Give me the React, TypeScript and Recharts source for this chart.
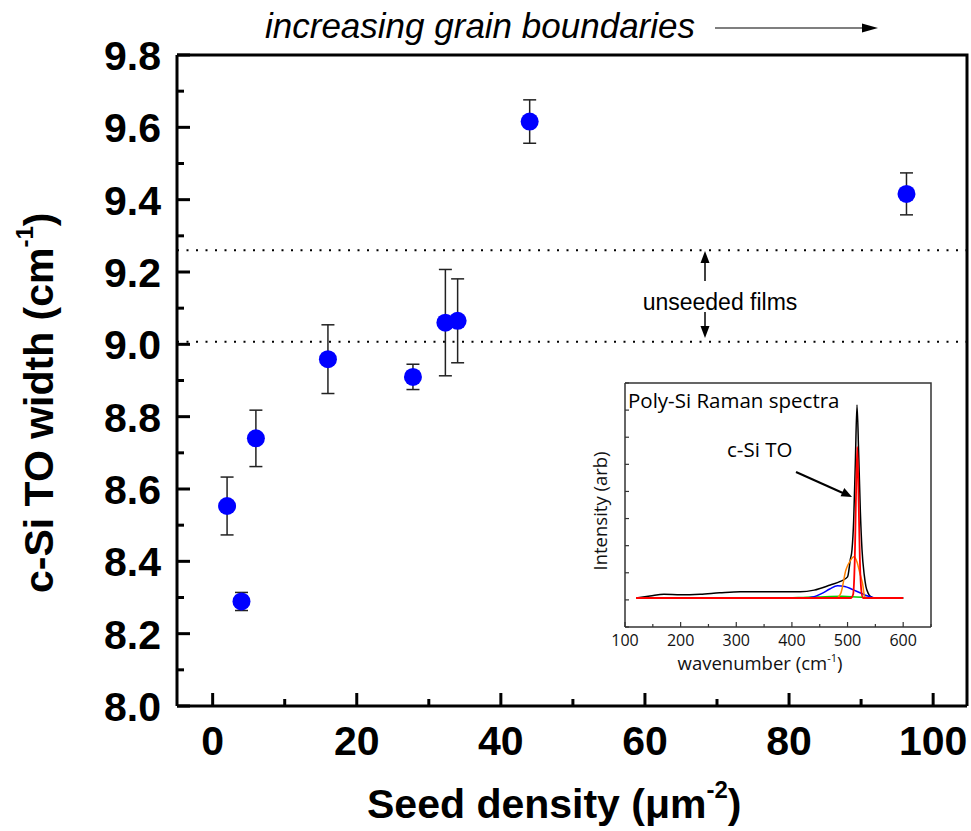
import React from "react";
import { ScatterChart, Scatter, XAxis, YAxis, ErrorBar, ReferenceLine, LineChart, Line } from "recharts";

// main data: c-Si TO peak width vs seed density
const seedDensity = [2.0, 4.0, 6.0, 16.0, 27.8, 32.3, 34.0, 44.0, 96.3];
const toWidth = [8.553, 8.289, 8.74, 8.959, 8.91, 9.06, 9.065, 9.616, 9.416];
const toWidthErr = [0.08, 0.025, 0.078, 0.095, 0.035, 0.147, 0.116, 0.06, 0.058];
const unseededLimits = [9.007, 9.26];

const xTicks = [0, 10, 20, 30, 40, 50, 60, 70, 80, 90, 100];
const yTicks = [8.0, 8.1, 8.2, 8.3, 8.4, 8.5, 8.6, 8.7, 8.8, 8.9, 9.0, 9.1, 9.2, 9.3, 9.4, 9.5, 9.6, 9.7, 9.8];
const X_DOMAIN: [number, number] = [-4.95, 104.7];
const Y_DOMAIN: [number, number] = [8.0, 9.8];

// inset: Raman spectrum and fitted components (wavenumber, intensity in arb units)
const totalW = [120, 145, 170, 200, 235, 270, 307, 350, 415, 440, 469, 487, 500, 505, 508, 511, 514, 517, 520, 523, 526, 530, 533, 537, 541, 550, 600];
const totalI = [1.07, 1.14, 1.21, 1.19, 1.21, 1.26, 1.3, 1.3, 1.3, 1.36, 1.55, 1.68, 1.85, 2.49, 2.85, 3.92, 6.05, 8.19, 6.41, 4.27, 2.85, 1.92, 1.5, 1.25, 1.13, 1.07, 1.07];
const greenW = [120, 380, 420, 460, 490, 515, 535, 550, 600];
const greenI = [1.07, 1.07, 1.09, 1.12, 1.13, 1.11, 1.09, 1.07, 1.07];
const blueW = [120, 421, 440, 455, 468, 482, 495, 505, 515, 525, 535, 545, 554, 600];
const blueI = [1.07, 1.07, 1.12, 1.25, 1.4, 1.52, 1.49, 1.42, 1.33, 1.24, 1.15, 1.09, 1.07, 1.07];
const orangeW = [120, 480, 488, 497, 505, 511.5, 517, 522, 527, 531, 535, 600];
const orangeI = [1.07, 1.07, 1.25, 2.1, 2.45, 2.59, 2.4, 2.0, 1.6, 1.1, 1.07, 1.07];
const redW = [120, 506, 510, 513, 515, 517.5, 520, 522, 525, 528, 600];
const redI = [1.07, 1.07, 1.2, 2.5, 4.6, 6.64, 4.6, 2.6, 1.3, 1.07, 1.07];

const insetXTicks = [100, 150, 200, 250, 300, 350, 400, 450, 500, 550, 600, 650];
const insetYTicks = [0, 1, 2, 3, 4, 5, 6, 7, 8, 9];
const INSET_X: [number, number] = [100, 650];
const INSET_Y: [number, number] = [0, 9];

const points = seedDensity.map((x, i) => ({ x, y: toWidth[i], err: toWidthErr[i] }));
const zip = (w: number[], v: number[]) => w.map((x, i) => ({ w: x, i: v[i] }));
const total = zip(totalW, totalI);
const green = zip(greenW, greenI);
const blue = zip(blueW, blueI);
const orange = zip(orangeW, orangeI);
const red = zip(redW, redI);

const BOLD = "'Liberation Sans', Arial, Helvetica, sans-serif";
const INSET_FONT = "'Open Sans', Lato, sans-serif";

function MainXTick(p: any) {
  const v = p.payload.value;
  const major = v % 20 === 0;
  return (
    <g>
      <line x1={p.x} x2={p.x} y1={p.y} y2={p.y - (major ? 13 : 7)} stroke="#000" strokeWidth={3} />
      {major && (
        <text x={p.x} y={p.y + 49} textAnchor="middle" fontFamily={BOLD} fontWeight="bold" fontSize={41} fill="#000">
          {v}
        </text>
      )}
    </g>
  );
}

function MainYTick(p: any) {
  const v = p.payload.value;
  const major = Math.round(v * 10) % 2 === 0;
  return (
    <g>
      <line x1={p.x} x2={p.x + (major ? 13 : 7)} y1={p.y} y2={p.y} stroke="#000" strokeWidth={3} />
      {major && (
        <text x={p.x - 16} y={p.y + 15} textAnchor="end" fontFamily={BOLD} fontWeight="bold" fontSize={41} fill="#000">
          {v.toFixed(1)}
        </text>
      )}
    </g>
  );
}

function InsetXTick(p: any) {
  const v = p.payload.value;
  const major = v % 100 === 0;
  return (
    <g>
      <line x1={p.x} x2={p.x} y1={p.y} y2={p.y - (major ? 5 : 3)} stroke="#333" strokeWidth={1.2} />
      {major && v <= 600 && (
        <text x={p.x} y={p.y + 19} textAnchor="middle" fontFamily={INSET_FONT} fontSize={16} fill="#111">
          {v}
        </text>
      )}
    </g>
  );
}

function InsetYTick(p: any) {
  return <line x1={p.x} x2={p.x + 4} y1={p.y} y2={p.y} stroke="#333" strokeWidth={1.2} />;
}

const dot = (p: any) => <circle cx={p.cx} cy={p.cy} r={9} fill="#0000ff" />;

export default function App() {
  return (
    <div style={{ position: "relative", width: 971, height: 831, overflow: "hidden", background: "#fff" }}>
      <style>{"html,body{margin:0;padding:0;overflow:hidden;}"}</style>
      <ScatterChart width={971} height={831} margin={{ top: 55, right: 4, bottom: 0, left: 0 }}>
        <XAxis
          dataKey="x"
          type="number"
          domain={X_DOMAIN}
          ticks={xTicks}
          interval={0}
          allowDataOverflow
          height={125}
          tickSize={0}
          tickMargin={0}
          tickLine={false}
          axisLine={{ stroke: "#000", strokeWidth: 3 }}
          tick={(p: any) => <MainXTick {...p} />}
        />
        <YAxis
          dataKey="y"
          type="number"
          domain={Y_DOMAIN}
          ticks={yTicks}
          interval={0}
          allowDataOverflow
          width={177}
          tickSize={0}
          tickMargin={0}
          tickLine={false}
          axisLine={{ stroke: "#000", strokeWidth: 3 }}
          tick={(p: any) => <MainYTick {...p} />}
        />
        {unseededLimits.map((v) => (
          <ReferenceLine key={v} y={v} stroke="#000" strokeWidth={2} strokeDasharray="2 7.5" />
        ))}
        <Scatter data={points} shape={dot} isAnimationActive={false}>
          <ErrorBar dataKey="err" direction="y" width={6.5} stroke="#222" strokeWidth={1.5} />
        </Scatter>
        <text x={367} y={818} fontFamily={BOLD} fontWeight="bold" fontSize={41} fill="#000">
          Seed density (μm
          <tspan fontSize={24} dy={-20}>-2</tspan>
          <tspan dy={20}>)</tspan>
        </text>
        <text
          x={53}
          y={593}
          transform="rotate(-90, 53, 593)"
          fontFamily={BOLD}
          fontWeight="bold"
          fontSize={41}
          fill="#000"
        >
          c-Si TO width (cm
          <tspan fontSize={24} dy={-20}>-1</tspan>
          <tspan dy={20}>)</tspan>
        </text>
      </ScatterChart>

      <div style={{ position: "absolute", left: 560, top: 370 }}>
        <LineChart width={400} height={320} margin={{ top: 13, right: 29, bottom: 0, left: 0 }}>
          <XAxis
            dataKey="w"
            type="number"
            domain={INSET_X}
            ticks={insetXTicks}
            interval={0}
            allowDataOverflow
            height={63}
            tickSize={0}
            tickMargin={0}
            tickLine={false}
            axisLine={{ stroke: "#333", strokeWidth: 1.5 }}
            tick={(p: any) => <InsetXTick {...p} />}
          />
          <YAxis
            type="number"
            domain={INSET_Y}
            ticks={insetYTicks}
            interval={0}
            allowDataOverflow
            width={65}
            tickSize={0}
            tickMargin={0}
            tickLine={false}
            axisLine={{ stroke: "#333", strokeWidth: 1.5 }}
            tick={(p: any) => <InsetYTick {...p} />}
          />
          <Line data={total} dataKey="i" type="monotone" stroke="#000" strokeWidth={1.5} dot={false} isAnimationActive={false} />
          <Line data={green} dataKey="i" type="monotone" stroke="#00cc00" strokeWidth={1.5} dot={false} isAnimationActive={false} />
          <Line data={blue} dataKey="i" type="monotone" stroke="#0000ff" strokeWidth={1.5} dot={false} isAnimationActive={false} />
          <Line data={orange} dataKey="i" type="monotone" stroke="#ff8000" strokeWidth={1.5} dot={false} isAnimationActive={false} />
          <Line data={red} dataKey="i" type="monotone" stroke="#ff0000" strokeWidth={1.8} dot={false} isAnimationActive={false} />
          <text x={200} y={300} textAnchor="middle" fontFamily={INSET_FONT} fontSize={18.5} fill="#111">
            wavenumber (cm
            <tspan fontSize={11} dy={-8}>-1</tspan>
            <tspan dy={8}>)</tspan>
          </text>
          <text x={47} y={141} transform="rotate(-90, 47, 141)" textAnchor="middle" fontFamily={INSET_FONT} fontSize={18.5} fill="#111">
            Intensity (arb)
          </text>
        </LineChart>
      </div>

      <svg width={971} height={831} style={{ position: "absolute", left: 0, top: 0, pointerEvents: "none" }}>
        {/* closing frame lines (top / right) of the main plot and the inset */}
        <polyline points="177,55 967,55 967,706" fill="none" stroke="#000" strokeWidth={3} />
        <polyline points="625,383 931,383 931,627" fill="none" stroke="#333" strokeWidth={1.5} />
        <text x={265} y={38} fontFamily={BOLD} fontStyle="italic" fontSize={35} fill="#000">
          increasing grain boundaries
        </text>
        <line x1={715} x2={864} y1={28} y2={28} stroke="#000" strokeWidth={1.2} />
        <polygon points="878,28 862,23.5 862,32.5" fill="#000" />
        <text x={720} y={310} textAnchor="middle" fontFamily={BOLD} fontSize={23} fill="#000">
          unseeded films
        </text>
        <line x1={705} x2={705} y1={281} y2={261} stroke="#000" strokeWidth={1.5} />
        <polygon points="705,251 700.5,263 709.5,263" fill="#000" />
        <line x1={705} x2={705} y1={312} y2={328} stroke="#000" strokeWidth={1.5} />
        <polygon points="705,338 700.5,326 709.5,326" fill="#000" />
        <text x={628} y={408} fontFamily={INSET_FONT} fontSize={20.5} fill="#000">
          Poly-Si Raman spectra
        </text>
        <text x={727} y={457} fontFamily={INSET_FONT} fontSize={20.5} fill="#000">
          c-Si TO
        </text>
        <line x1={796} y1={472} x2={844} y2={493.5} stroke="#000" strokeWidth={2} />
        <polygon points="852,497 840.6,496.2 844.3,488" fill="#000" />
      </svg>
    </div>
  );
}
